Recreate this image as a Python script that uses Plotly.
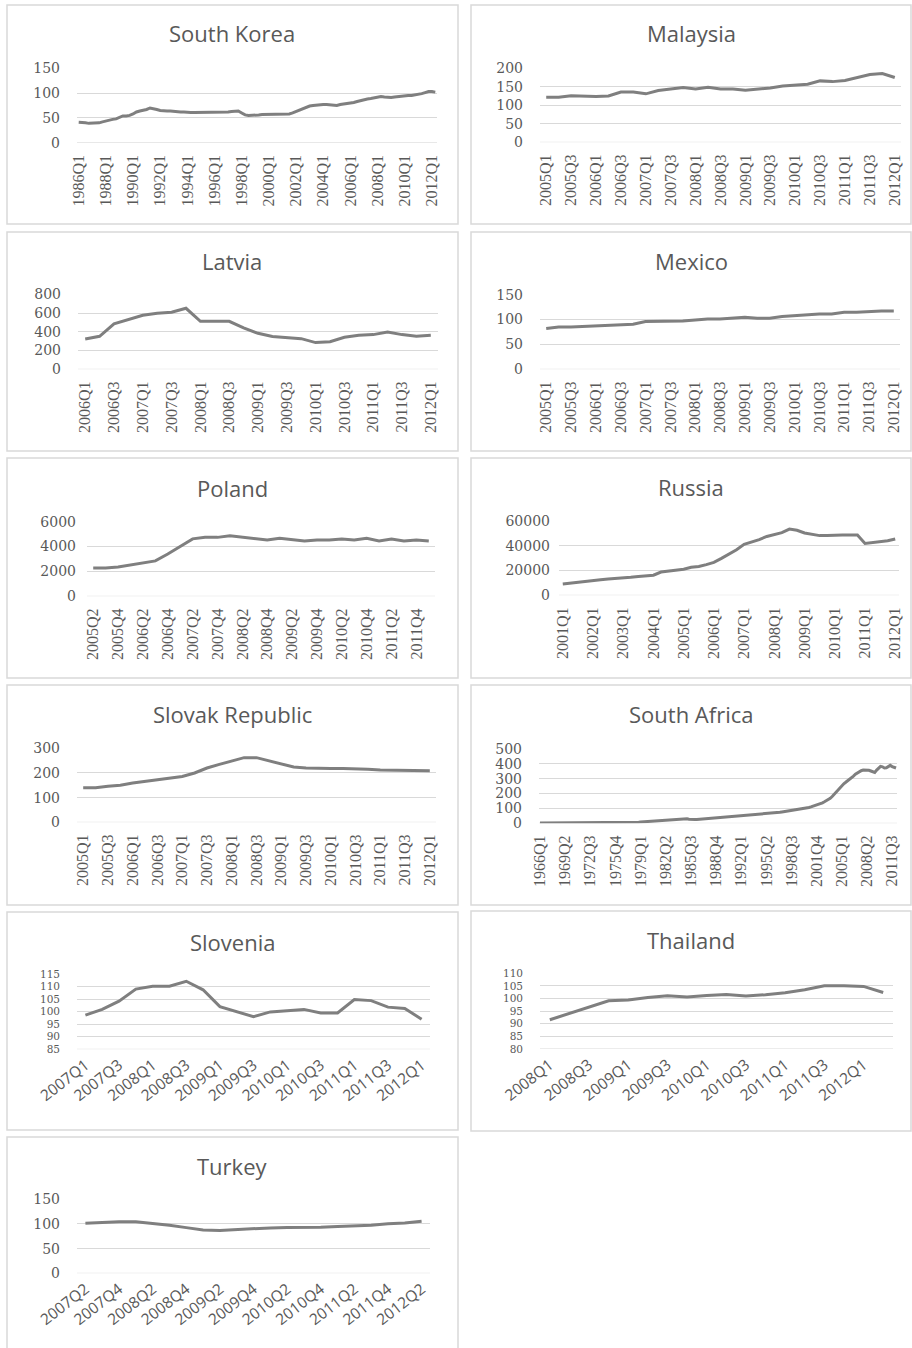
import plotly.graph_objects as go

# ---------------------------------------------------------------------------
# Quarterly index series, one list per country
# ---------------------------------------------------------------------------

def quarters(start_year, start_q, n):
    """Return n consecutive quarter labels such as '1986Q1'."""
    out = []
    y, q = start_year, start_q
    for _ in range(n):
        out.append(f"{y}Q{q}")
        q += 1
        if q > 4:
            q = 1
            y += 1
    return out


korea_values = [
    41, 41, 40, 39, 39, 39, 40, 42, 44, 46, 47, 48, 51, 54, 54, 55,
    58, 62, 64, 65, 67, 70, 69, 67, 65, 64, 64, 64, 63, 63, 62, 62,
    61, 61, 61, 61, 61, 61, 61, 61, 61, 61, 61, 61, 62, 63, 64, 64,
    60, 56, 55, 55, 55, 56, 57, 57, 57, 57, 57, 57, 57, 57, 58, 60,
    63, 66, 69, 72, 74, 75, 76, 77, 77, 77, 76, 75, 75, 77, 78, 79,
    79, 81, 83, 85, 87, 88, 89, 90, 92, 93, 92, 91, 91, 92, 93, 94,
    95, 95, 95, 96, 97, 99, 101, 103, 103, 102,
]
korea_ticks = ["1986Q1", "1988Q1", "1990Q1", "1992Q1", "1994Q1", "1996Q1",
               "1998Q1", "2000Q1", "2002Q1", "2004Q1", "2006Q1", "2008Q1",
               "2010Q1", "2012Q1"]

malaysia_values = [
    122, 122, 126, 124, 124, 125, 136, 136, 131, 140, 144, 148, 144, 149,
    144, 144, 141, 143, 147, 152, 154, 157, 166, 164, 167, 176, 183, 186,
    175,
]
malaysia_ticks = ["2005Q1", "2005Q3", "2006Q1", "2006Q3", "2007Q1", "2007Q3",
                  "2008Q1", "2008Q3", "2009Q1", "2009Q3", "2010Q1", "2010Q3",
                  "2011Q1", "2011Q3", "2012Q1"]

latvia_values = [
    324, 352, 484, 530, 577, 598, 608, 651, 512, 512, 512, 441, 384, 349,
    338, 327, 285, 295, 342, 363, 370, 398, 370, 352, 363,
]
latvia_ticks = ["2006Q1", "2006Q3", "2007Q1", "2007Q3", "2008Q1", "2008Q3",
                "2009Q1", "2009Q3", "2010Q1", "2010Q3", "2011Q1", "2011Q3",
                "2012Q1"]

mexico_values = [
    82, 85, 85, 86, 87, 88.5, 89, 90.5, 96, 96, 96, 97, 99, 101, 101,
    102.5, 104.5, 102.5, 102.5, 106, 108, 109, 111, 111, 114.5, 114.5,
    116, 117, 117,
]
mexico_ticks = malaysia_ticks

poland_values = [
    2280, 2280, 2360, 2520, 2700, 2850, 3400, 4000, 4620, 4740, 4740, 4870,
    4740, 4660, 4530, 4660, 4530, 4450, 4530, 4530, 4600, 4530, 4660, 4450,
    4600, 4450, 4530, 4450,
]
poland_ticks = ["2005Q2", "2005Q4", "2006Q2", "2006Q4", "2007Q2", "2007Q4",
                "2008Q2", "2008Q4", "2009Q2", "2009Q4", "2010Q2", "2010Q4",
                "2011Q2", "2011Q4"]

russia_values = [
    9150, 9960, 10760, 11570, 12100, 12600, 13100, 13500,
    13500, 14500, 15200, 15800, 16200, 18800, 19500, 20200,
    21000, 22600, 23300, 24800, 26600, 29800, 33000, 36800,
    41200, 43000, 45000, 47500, 48900, 50600, 53500, 52500,
    50300, 49200, 48200, 48200, 48700, 48700, 48700, 48700,
    41900, 42600, 43300, 44000, 45500,
]
russia_ticks = ["2001Q1", "2002Q1", "2003Q1", "2004Q1", "2005Q1", "2006Q1",
                "2007Q1", "2008Q1", "2009Q1", "2010Q1", "2011Q1", "2012Q1"]

slovak_values = [
    140, 140, 146, 150, 159, 166, 173, 177, 186, 200, 220, 235, 249, 262,
    262, 249, 236, 224, 220, 218, 218, 218, 218, 215, 212, 212, 212, 209,
    209,
]
slovak_ticks = malaysia_ticks

south_africa_values = [
    2, 2, 2, 2, 2, 2, 2, 2, 3, 3, 3, 3, 3, 3, 3, 3,
    4, 4, 4, 4, 4, 4, 5, 5, 5, 5, 5, 5, 5, 5, 6, 6, 6, 6, 6, 6,
    6, 6, 6, 6, 6, 6, 6, 6, 6, 6, 6, 6, 6, 7, 7, 7,
    8, 9, 10, 11, 12, 13, 14, 15, 16, 17, 18, 19, 20, 21, 22, 23,
    24, 25, 27, 28, 30, 32, 33, 34,
    31, 28, 26, 25, 25, 26, 27, 28, 29, 30, 32, 33,
    34, 35, 36, 38, 40, 41, 42, 44, 45, 46, 48, 49, 50, 51, 52, 53,
    54, 54, 55, 55, 56, 57, 58, 59, 60, 61, 62, 63, 64, 65, 66, 67,
    68, 69, 70, 72, 74, 76, 78, 80, 82, 83, 85, 86, 88, 90, 92, 95,
    98, 100, 103, 106, 110, 114, 118, 122, 127, 132, 138, 145, 152, 160, 168, 180,
    195, 212, 228, 242, 255, 266, 276, 285, 295, 306, 318, 330, 340, 348, 354, 358,
    358, 360, 357, 352, 345, 342, 358, 374, 383, 380, 372, 374, 385, 390, 382, 376,
    372,
]
south_africa_ticks = ["1966Q1", "1969Q2", "1972Q3", "1975Q4", "1979Q1",
                      "1982Q2", "1985Q3", "1988Q4", "1992Q1", "1995Q2",
                      "1998Q3", "2001Q4", "2005Q1", "2008Q2", "2011Q3"]

slovenia_values = [
    98.6, 100.9, 104.2, 109.0, 110.1, 110.1, 112.1, 108.7, 102.0, 100.1,
    98.0, 99.9, 100.3, 100.9, 99.5, 99.5, 104.8, 104.4, 101.8, 101.3, 97.0,
]
slovenia_ticks = ["2007Q1", "2007Q3", "2008Q1", "2008Q3", "2009Q1", "2009Q3",
                  "2010Q1", "2010Q3", "2011Q1", "2011Q3", "2012Q1"]

thailand_values = [
    91.6, 94.2, 96.7, 99.1, 99.4, 100.4, 101.1, 100.6, 101.2, 101.6, 101.0,
    101.5, 102.3, 103.5, 105.1, 105.1, 104.8, 102.4,
]
thailand_ticks = ["2008Q1", "2008Q3", "2009Q1", "2009Q3", "2010Q1", "2010Q3",
                  "2011Q1", "2011Q3", "2012Q1"]

turkey_values = [
    101.4, 103.4, 104.7, 104.7, 101.4, 97.3, 92.6, 88.0, 87.0, 89.0, 91.0,
    92.0, 93.0, 93.0, 93.5, 95.0, 96.0, 97.5, 100.5, 102.0, 105.5,
]
turkey_ticks = ["2007Q2", "2007Q4", "2008Q2", "2008Q4", "2009Q2", "2009Q4",
                "2010Q2", "2010Q4", "2011Q2", "2011Q4", "2012Q2"]

# ---------------------------------------------------------------------------
# Panel definitions: series, axis setup and pixel geometry
# ---------------------------------------------------------------------------
W, H = 912, 1348

panels = [
    dict(title="South Korea", start=(1986, 1), values=korea_values, ticks=korea_ticks,
         yr=(0, 150), dy=50, plot=(77, 437, 68.3, 142.7), box=(7, 458, 5, 224),
         ty=33, angle=-90),
    dict(title="Malaysia", start=(2005, 1), values=malaysia_values, ticks=malaysia_ticks,
         yr=(0, 200), dy=50, plot=(540, 901, 68.3, 142.3), box=(471, 911, 5, 224),
         ty=33, angle=-90),
    dict(title="Latvia", start=(2006, 1), values=latvia_values, ticks=latvia_ticks,
         yr=(0, 800), dy=200, plot=(78, 438, 294.3, 369.3), box=(7, 458, 232, 451),
         ty=261, angle=-90),
    dict(title="Mexico", start=(2005, 1), values=mexico_values, ticks=mexico_ticks,
         yr=(0, 150), dy=50, plot=(540, 900, 294.7, 369.3), box=(471, 911, 232, 451),
         ty=261, angle=-90),
    dict(title="Poland", start=(2005, 2), values=poland_values, ticks=poland_ticks,
         yr=(0, 6000), dy=2000, plot=(87, 435, 521.7, 596.3), box=(7, 458, 458, 678),
         ty=488, angle=-90, standoff=10),
    dict(title="Russia", start=(2001, 1), values=russia_values, ticks=russia_ticks,
         yr=(0, 60000), dy=20000, plot=(559, 899, 521, 595.3), box=(471, 911, 458, 678),
         ty=487, angle=-90, standoff=8),
    dict(title="Slovak Republic", start=(2005, 1), values=slovak_values, ticks=slovak_ticks,
         yr=(0, 300), dy=100, plot=(77, 436, 748.3, 822.3), box=(7, 458, 685, 905),
         ty=714, angle=-90),
    dict(title="South Africa", start=(1966, 1), values=south_africa_values,
         ticks=south_africa_ticks, yr=(0, 500), dy=100, plot=(539, 897, 749, 823.3),
         box=(471, 911, 685, 905), ty=714, angle=-90),
    dict(title="Slovenia", start=(2007, 1), values=slovenia_values, ticks=slovenia_ticks,
         yr=(85, 115), dy=5, plot=(77, 430, 974, 1049.3), box=(7, 458, 912, 1130),
         ty=942, angle=-38, ysize=10.5),
    dict(title="Thailand", start=(2008, 1), values=thailand_values, ticks=thailand_ticks,
         yr=(80, 110), dy=5, plot=(540, 893, 973.3, 1049), box=(471, 911, 911, 1131),
         ty=940, angle=-38, ysize=10.5),
    dict(title="Turkey", start=(2007, 2), values=turkey_values, ticks=turkey_ticks,
         yr=(0, 150), dy=50, plot=(77, 430, 1199.3, 1273.3), box=(7, 458, 1137, 1400),
         ty=1166, angle=-38),
]

LINE = "#7f7f7f"
GRID = "#d9d9d9"
TEXT = "#595959"

fig = go.Figure()
layout = dict(
    width=W, height=H,
    margin=dict(l=0, r=0, t=0, b=0, autoexpand=False),
    paper_bgcolor="white", plot_bgcolor="white",
    showlegend=False,
    annotations=[], shapes=[],
)

for i, p in enumerate(panels, start=1):
    cats = quarters(p["start"][0], p["start"][1], len(p["values"]))
    xa = "x" if i == 1 else f"x{i}"
    ya = "y" if i == 1 else f"y{i}"
    fig.add_trace(go.Scatter(
        x=cats, y=p["values"], mode="lines",
        line=dict(color=LINE, width=3),
        xaxis=xa, yaxis=ya, hoverinfo="x+y",
    ))

    x0, x1, top, bottom = p["plot"]
    vertical = p["angle"] == -90
    layout[f"xaxis{'' if i == 1 else i}"] = dict(
        domain=[x0 / W, x1 / W], anchor=ya, automargin=False,
        type="category", categoryorder="array", categoryarray=cats,
        range=[-0.5, len(cats) - 0.5],
        tickmode="array", tickvals=p["ticks"], ticktext=p["ticks"],
        tickangle=p["angle"], showgrid=False, zeroline=False,
        showline=False, ticks="",
        ticklabelstandoff=8 if vertical else 3,
        tickfont=dict(family="Liberation Serif" if vertical else "Open Sans",
                      size=16 if vertical else 15.5, color=TEXT),
        fixedrange=True,
    )
    layout[f"yaxis{'' if i == 1 else i}"] = dict(
        domain=[1 - bottom / H, 1 - top / H], anchor=xa, automargin=False,
        range=list(p["yr"]), dtick=p["dy"], tick0=p["yr"][0], tickformat="d",
        showgrid=True, gridcolor=GRID, gridwidth=1,
        zeroline=False, showline=False, ticks="",
        ticklabelstandoff=p.get("standoff", 16),
        tickfont=dict(family="DejaVu Serif", size=p.get("ysize", 14), color=TEXT),
        fixedrange=True,
    )

    bx0, bx1, by0, by1 = p["box"]
    layout["shapes"].append(dict(
        type="rect", xref="paper", yref="paper",
        x0=bx0 / W, x1=bx1 / W, y0=1 - by1 / H, y1=1 - by0 / H,
        line=dict(color=GRID, width=1.5), fillcolor="rgba(0,0,0,0)", layer="below",
    ))
    # bottom gridline at the lower range value
    layout["shapes"].append(dict(
        type="line", xref=f"{xa} domain", yref=ya,
        x0=0, x1=1, y0=p["yr"][0], y1=p["yr"][0],
        line=dict(color=GRID, width=1), layer="below",
    ))
    layout["annotations"].append(dict(
        text=p["title"], xref="paper", yref="paper",
        x=((bx0 + bx1) / 2) / W, y=1 - p["ty"] / H,
        xanchor="center", yanchor="middle", showarrow=False,
        font=dict(family="Open Sans", size=22, color=TEXT),
    ))

fig.update_layout(**layout)
fig.write_html("out.html")
